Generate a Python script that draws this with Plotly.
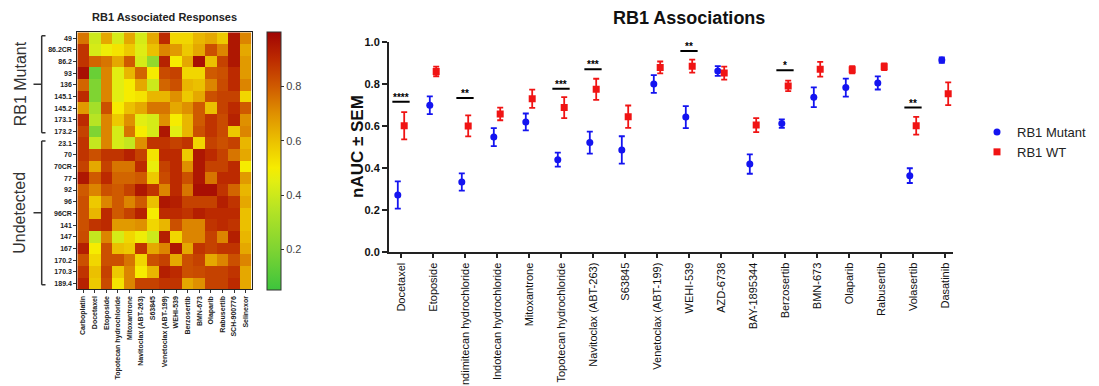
import plotly.graph_objects as go

W, H = 1099, 386
OFF = 8  # page body margin compensation

# ---------------- Heatmap data ----------------
hm_drugs = ["Carboplatin", "Docetaxel", "Etoposide", "Topotecan hydrochloride", "Mitoxantrone",
            "Navitoclax (ABT-263)", "S63845", "Venetoclax (ABT-199)", "WEHI-539", "Berzosertib",
            "BMN-673", "Olaparib", "Rabusertib", "SCH-900776", "Selinexor"]
hm_models = ["49", "86.2CR", "86.2", "93", "136", "145.1", "145.2", "173.1", "173.2",
             "23.1", "70", "70CR", "77", "92", "96", "96CR", "141", "147", "167", "170.2", "170.3", "189.4"]
hm_groups = ["RB1 Mutant", "Undetected"]
hm_group_sizes = [9, 13]
hm_values = [
    [0.75, 0.40, 0.65, 0.42, 0.65, 0.42, 0.65, 0.90, 0.55, 0.55, 0.62, 0.65, 0.58, 0.95, 0.72],
    [0.88, 0.42, 0.48, 0.52, 0.58, 0.44, 0.60, 0.72, 0.68, 0.58, 0.65, 0.82, 0.72, 0.95, 0.65],
    [0.88, 0.78, 0.75, 0.65, 0.80, 0.42, 0.25, 0.92, 0.50, 0.65, 0.97, 0.60, 0.85, 0.95, 0.68],
    [0.97, 0.15, 0.72, 0.45, 0.62, 0.78, 0.50, 0.83, 0.85, 0.55, 0.55, 0.80, 0.82, 0.90, 0.68],
    [0.78, 0.20, 0.72, 0.45, 0.50, 0.65, 0.40, 0.78, 0.82, 0.62, 0.60, 0.72, 0.83, 0.90, 0.72],
    [0.90, 0.20, 0.72, 0.45, 0.50, 0.52, 0.62, 0.62, 0.70, 0.58, 0.65, 0.82, 0.85, 0.85, 0.55],
    [0.68, 0.30, 0.82, 0.50, 0.60, 0.65, 0.75, 0.75, 0.65, 0.70, 0.80, 0.60, 0.85, 0.90, 0.80],
    [0.90, 0.35, 0.72, 0.58, 0.70, 0.45, 0.42, 0.70, 0.50, 0.62, 0.80, 0.88, 0.83, 0.92, 0.70],
    [0.85, 0.20, 0.72, 0.42, 0.75, 0.50, 0.42, 0.95, 0.45, 0.62, 0.82, 0.88, 0.83, 0.58, 0.72],
    [0.88, 0.38, 0.72, 0.42, 0.38, 0.70, 0.88, 0.88, 0.85, 0.88, 0.55, 0.85, 0.82, 0.85, 0.62],
    [0.88, 0.82, 0.88, 0.88, 0.92, 0.85, 0.52, 0.90, 0.90, 0.58, 0.95, 0.90, 0.85, 0.75, 0.65],
    [0.85, 0.65, 0.85, 0.75, 0.75, 0.90, 0.47, 0.85, 0.90, 0.70, 0.95, 0.85, 0.85, 0.90, 0.50],
    [0.95, 0.80, 0.90, 0.78, 0.78, 0.80, 0.58, 0.83, 0.90, 0.82, 0.95, 0.75, 0.90, 0.90, 0.68],
    [0.80, 0.72, 0.82, 0.80, 0.85, 0.95, 0.88, 0.72, 0.90, 0.75, 0.97, 0.97, 0.88, 0.78, 0.62],
    [0.82, 0.58, 0.72, 0.80, 0.72, 0.80, 0.60, 0.95, 0.93, 0.85, 0.85, 0.85, 0.93, 0.88, 0.65],
    [0.82, 0.62, 0.90, 0.80, 0.85, 0.92, 0.50, 0.90, 0.90, 0.88, 0.93, 0.90, 0.90, 0.90, 0.60],
    [0.82, 0.88, 0.90, 0.68, 0.68, 0.70, 0.55, 0.62, 0.82, 0.72, 0.72, 0.88, 0.90, 0.88, 0.60],
    [0.83, 0.38, 0.72, 0.42, 0.55, 0.48, 0.40, 0.93, 0.55, 0.72, 0.72, 0.85, 0.72, 0.93, 0.62],
    [0.93, 0.50, 0.82, 0.60, 0.58, 0.88, 0.65, 0.72, 0.95, 0.65, 0.88, 0.85, 0.88, 0.88, 0.65],
    [0.82, 0.55, 0.82, 0.82, 0.75, 0.55, 0.82, 0.85, 0.65, 0.82, 0.85, 0.65, 0.72, 0.82, 0.72],
    [0.88, 0.60, 0.85, 0.58, 0.72, 0.50, 0.62, 0.93, 0.90, 0.82, 0.83, 0.85, 0.85, 0.88, 0.65],
    [0.92, 0.58, 0.83, 0.52, 0.72, 0.85, 0.85, 0.88, 0.88, 0.65, 0.70, 0.85, 0.85, 0.90, 0.65],
]
cb_ticks = [0.2, 0.4, 0.6, 0.8]

# ---------------- Scatter data ----------------
drugs = ["Docetaxel", "Etoposide", "Indimitecan hydrochloride", "Indotecan hydrochloride",
         "Mitoxantrone", "Topotecan hydrochloride", "Navitoclax (ABT-263)", "S63845",
         "Venetoclax (ABT-199)", "WEHI-539", "AZD-6738", "BAY-1895344", "Berzosertib",
         "BMN-673", "Olaparib", "Rabusertib", "Volasertib", "Dasatinib"]
mut_mean = [0.272, 0.698, 0.334, 0.547, 0.619, 0.440, 0.521, 0.486, 0.799, 0.642,
            0.861, 0.419, 0.611, 0.736, 0.782, 0.804, 0.364, 0.913]
mut_sem = [0.065, 0.042, 0.041, 0.043, 0.040, 0.033, 0.052, 0.065, 0.042, 0.052,
           0.023, 0.046, 0.020, 0.047, 0.043, 0.031, 0.035, 0.013]
wt_mean = [0.601, 0.859, 0.600, 0.657, 0.729, 0.687, 0.774, 0.644, 0.878, 0.884,
           0.851, 0.604, 0.790, 0.869, 0.867, 0.881, 0.601, 0.753]
wt_sem = [0.065, 0.023, 0.050, 0.030, 0.043, 0.050, 0.050, 0.053, 0.028, 0.031,
          0.031, 0.033, 0.025, 0.035, 0.017, 0.016, 0.042, 0.054]
sig_drugs = ["Docetaxel", "Indimitecan hydrochloride", "Topotecan hydrochloride",
             "Navitoclax (ABT-263)", "WEHI-539", "Berzosertib", "Volasertib"]
sig_labels = ["****", "**", "***", "***", "**", "*", "**"]
sig_heights = [0.715, 0.733, 0.777, 0.869, 0.956, 0.865, 0.687]
y_ticks = [0.0, 0.2, 0.4, 0.6, 0.8, 1.0]

FONT = "Liberation Sans, Arial, sans-serif"


def px_x(p):
    return (p - OFF) / W


def px_y(p):
    return 1 - (p - OFF) / H


colorscale = [
    [0.000, "#3dc43d"], [0.158, "#7fd432"], [0.316, "#b7e424"], [0.421, "#e2ee12"],
    [0.474, "#f6ec00"], [0.579, "#ebc000"], [0.684, "#df9000"], [0.789, "#cf5a00"],
    [0.895, "#bc2a00"], [1.000, "#a00404"],
]

fig = go.Figure()

fig.add_trace(go.Heatmap(
    z=hm_values, x=hm_drugs, y=hm_models, xaxis="x", yaxis="y",
    zmin=0.05, zmax=1.0, colorscale=colorscale, showscale=True, showlegend=False,
    colorbar=dict(
        x=px_x(267.3), xanchor="left", y=px_y(32.3), yanchor="top",
        thickness=14, thicknessmode="pixels", len=258, lenmode="pixels",
        xpad=0, ypad=0, outlinewidth=1, outlinecolor="#333",
        tickvals=cb_ticks, ticks="outside", ticklen=3, tickcolor="#333",
        tickfont=dict(family=FONT, size=11, color="#444"),
    ),
))

idx = list(range(len(drugs)))
fig.add_trace(go.Scatter(
    x=[i - 0.1 for i in idx], y=mut_mean, xaxis="x2", yaxis="y2", mode="markers",
    name="RB1 Mutant", marker=dict(symbol="circle", size=7, color="#1414f0"),
    error_y=dict(type="data", array=mut_sem, color="#1414f0", thickness=1.8, width=3),
))
fig.add_trace(go.Scatter(
    x=[i + 0.1 for i in idx], y=wt_mean, xaxis="x2", yaxis="y2", mode="markers",
    name="RB1 WT", marker=dict(symbol="square", size=7, color="#f01414"),
    error_y=dict(type="data", array=wt_sem, color="#f01414", thickness=1.8, width=3),
))

shapes = []
annotations = []

# significance bars
for d, lab, h in zip(sig_drugs, sig_labels, sig_heights):
    i = drugs.index(d)
    shapes.append(dict(type="line", xref="x2", yref="y2", x0=i - 0.27, x1=i + 0.27,
                       y0=h, y1=h, line=dict(color="black", width=2)))
    annotations.append(dict(xref="x2", yref="y2", x=i, y=h, text=lab, showarrow=False,
                            xanchor="center", yanchor="bottom", yshift=-3,
                            font=dict(family=FONT, size=10, color="black", weight="bold")))

# group brackets for heatmap
start = 0
for g, n in zip(hm_groups, hm_group_sizes):
    y0 = start - 0.2
    y1 = start + n - 1 + 0.1
    xv, xh, xt = px_x(41.7), px_x(45.5), px_x(33.5)
    ym = (y0 + y1) / 2
    for s in [dict(x0=xv, x1=xv, y0=y0, y1=y1), dict(x0=xv, x1=xh, y0=y0, y1=y0),
              dict(x0=xv, x1=xh, y0=y1, y1=y1), dict(x0=xt, x1=xv, y0=ym, y1=ym)]:
        shapes.append(dict(type="line", xref="paper", yref="y", line=dict(color="#333", width=1.5), **s))
    annotations.append(dict(xref="paper", yref="y", x=px_x(20), y=ym, text=g, textangle=-90,
                            xanchor="center", yanchor="middle",
                            showarrow=False, font=dict(family=FONT, size=16, color="#333")))
    start += n

annotations.append(dict(xref="paper", yref="paper", x=px_x(164), y=px_y(17),
                        text="<b>RB1 Associated Responses</b>", xanchor="center", yanchor="middle",
                        showarrow=False, font=dict(family=FONT, size=11, color="#222")))
annotations.append(dict(xref="paper", yref="paper", x=px_x(689), y=px_y(18),
                        text="<b>RB1 Associations</b>", xanchor="center", yanchor="middle",
                        showarrow=False, font=dict(family=FONT, size=18, color="#111")))
annotations.append(dict(xref="paper", yref="paper", x=px_x(358), y=px_y(147),
                        text="<b>nAUC ± SEM</b>", xanchor="center", yanchor="middle",
                        textangle=-90, showarrow=False, font=dict(family=FONT, size=17, color="#111")))

fig.update_layout(
    width=W, height=H, margin=dict(l=0, r=0, t=0, b=0, autoexpand=False),
    paper_bgcolor="white", plot_bgcolor="white",
    font=dict(family=FONT, color="#111"),
    xaxis=dict(domain=[px_x(77.3), px_x(251.5)], type="category", tickangle=-90,
               tickfont=dict(family=FONT, size=7, color="#222", weight="bold"),
               ticks="outside", ticklen=3, tickcolor="#333", showline=True, mirror=True,
               linecolor="#222", linewidth=1, automargin=False, showgrid=False),
    yaxis=dict(domain=[px_y(289.3), px_y(32.3)], type="category", autorange="reversed",
               tickfont=dict(family=FONT, size=7, color="#222", weight="bold"),
               ticks="outside", ticklen=3, tickcolor="#333", showline=True, mirror=True,
               linecolor="#222", linewidth=1, automargin=False, showgrid=False),
    xaxis2=dict(domain=[px_x(389), px_x(953)], anchor="y2", range=[-0.375, 17.25],
                tickvals=idx, ticktext=drugs, tickangle=-90,
                tickfont=dict(family=FONT, size=11, color="#111"),
                ticks="outside", ticklen=4, tickwidth=1.5, tickcolor="#222",
                showline=True, linecolor="#222", linewidth=2, showgrid=False,
                zeroline=False, automargin=False),
    yaxis2=dict(domain=[px_y(252.3), px_y(41.7)], anchor="x2", range=[0, 1.0],
                tickvals=y_ticks, tickformat=".1f",
                tickfont=dict(family=FONT, size=11, color="#111", weight="bold"),
                ticks="outside", ticklen=5, tickwidth=1.5, tickcolor="#222",
                showline=True, linecolor="#222", linewidth=2, showgrid=False,
                zeroline=False, automargin=False),
    legend=dict(x=px_x(977), y=px_y(117), xanchor="left", yanchor="top",
                font=dict(family=FONT, size=13, color="#222"), bgcolor="rgba(0,0,0,0)",
                tracegroupgap=0),
    shapes=shapes, annotations=annotations,
)

fig.write_html("out.html")
